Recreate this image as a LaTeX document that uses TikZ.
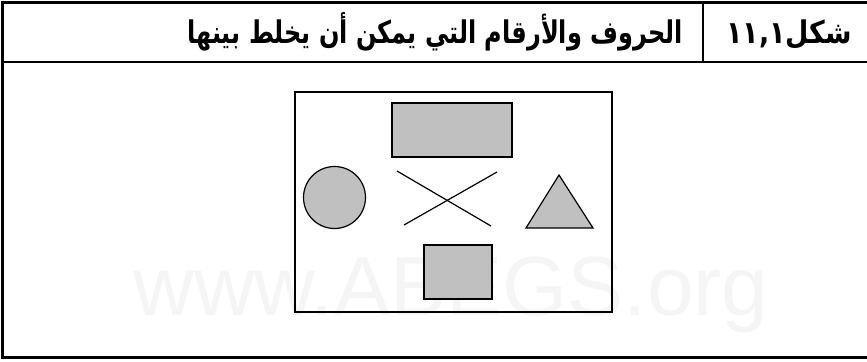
\documentclass[tikz,border=0pt]{standalone}
\usepackage{fontspec}
\usepackage{graphicx}
\setmainfont{Liberation Sans}
\newfontfamily\arabicfont[Script=Arabic]{DejaVu Sans}
\TeXXeTstate=1
\usepackage{tikz}
\usetikzlibrary{positioning}

\definecolor{shapegray}{HTML}{C0C0C0}
\tikzset{
  tableline/.style={black,line width=2.1pt},
  cellline/.style={black,line width=1.5pt},
  framebox/.style={draw=black,line width=1.1pt},
  shapebox/.style={draw=black,fill=shapegray,line width=0.9pt},
  headtext/.style={anchor=base east,inner sep=0pt,font=\arabicfont\bfseries\fontsize{18}{21}\selectfont},
}

\begin{document}
\begin{tikzpicture}[x=0.75pt,y=-0.75pt]
\useasboundingbox (0,0) rectangle (867,361);
% watermark, behind everything
\node[anchor=base,inner sep=0pt,text=black!4,font=\fontsize{63}{63}\selectfont] (mark) at (451,315) {www.ABEGS.org};
% table rules
\draw[tableline] (870,2.5) -- (2.5,2.5) -- (2.5,357.5) -- (870,357.5);
\draw[cellline] (2.5,62) -- (870,62);
\draw[cellline] (703,2.5) -- (703,62);
% header cells
\node[headtext] (title) at (683,43) {\scalebox{1}[1.3]{\beginR الحروف والأرقام التي يمكن أن يخلط بينها\endR}};
\node[headtext] (figno) at (852,43) {\scalebox{1.12}[1.3]{\beginR شكل\beginL ١١,١\endL\endR}};
% figure frame and its shapes
\draw[framebox] (295,92) rectangle (612,312);
\draw[shapebox] (392,103) rectangle (512,157);
\draw[shapebox] (334.5,197.5) circle[radius=31];
\draw[black,line width=0.9pt] (397,171) -- (491,226);
\draw[black,line width=0.9pt] (404,225) -- (497,172);
\draw[shapebox] (559,175) -- (593,228) -- (526,228) -- cycle;
\draw[shapebox] (424,245) rectangle (492,299);
\end{tikzpicture}
\end{document}
